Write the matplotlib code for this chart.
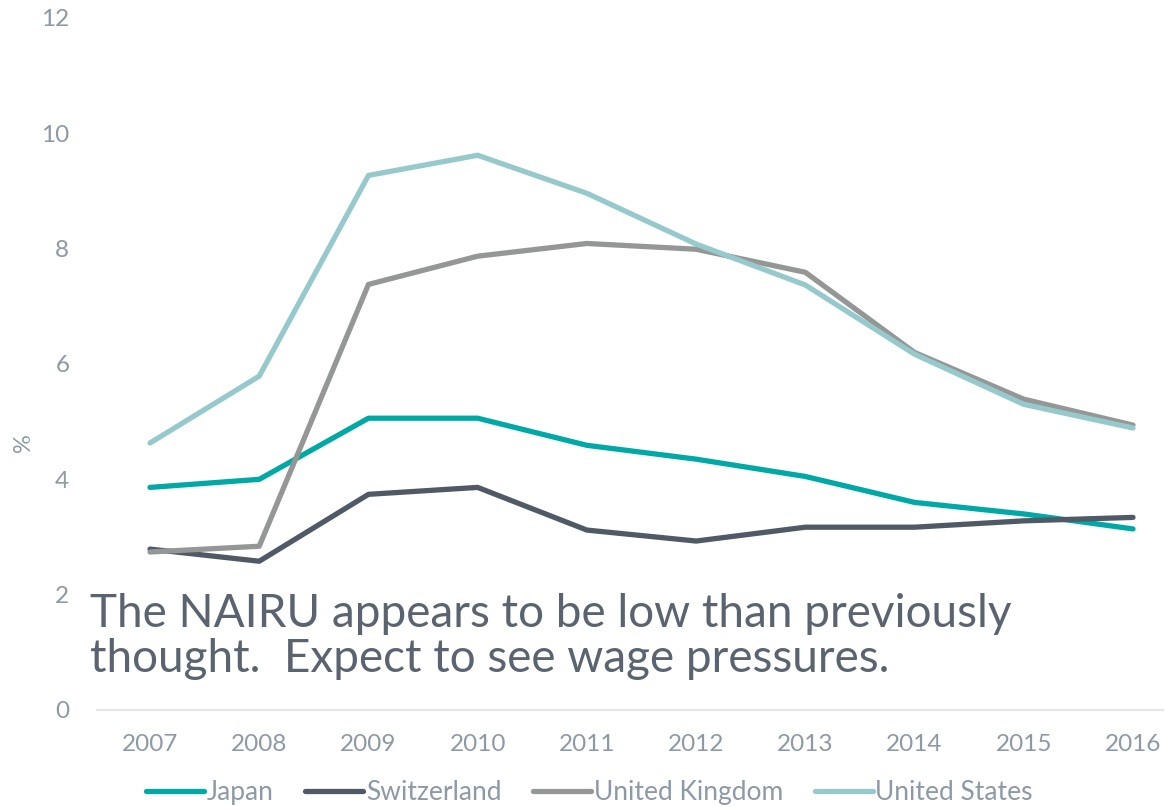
import matplotlib.pyplot as plt

years = [2007, 2008, 2009, 2010, 2011, 2012, 2013, 2014, 2015, 2016]
japan = [3.86, 4.00, 5.06, 5.06, 4.59, 4.35, 4.05, 3.60, 3.40, 3.14]
switzerland = [2.79, 2.58, 3.74, 3.86, 3.12, 2.93, 3.17, 3.17, 3.28, 3.34]
united_kingdom = [2.74, 2.84, 7.38, 7.87, 8.09, 7.99, 7.59, 6.20, 5.39, 4.94]
united_states = [4.63, 5.79, 9.27, 9.62, 8.96, 8.08, 7.37, 6.17, 5.30, 4.89]

series = [
    ("Japan", japan, "#00A9A5"),
    ("Switzerland", switzerland, "#4F5A66"),
    ("United Kingdom", united_kingdom, "#949796"),
    ("United States", united_states, "#96C9CB"),
]

plt.rcParams["font.family"] = ["Lato", "DejaVu Sans"]
label_color = "#8C99A6"

fig = plt.figure(figsize=(11.65, 8.07), dpi=100)
ax = fig.add_axes([0.0833, 0.1202, 0.915, 0.8575])

for name, vals, col in series:
    ax.plot(years, vals, color=col, linewidth=3.8, label=name, solid_capstyle="round")

ax.set_xlim(2006.515, 2016.275)
ax.set_ylim(0, 12)
ax.set_yticks(range(0, 13, 2))
ax.set_xticks(years)
ax.tick_params(length=0, labelsize=17.5, colors=label_color)
ax.tick_params(axis="x", pad=17)
ax.tick_params(axis="y", pad=20)
for s in ["top", "right", "left"]:
    ax.spines[s].set_visible(False)
ax.spines["bottom"].set_color("#E3E5E8")
ax.spines["bottom"].set_linewidth(1.5)

fig.text(0.02, 0.452, "%", rotation=90, color=label_color, fontsize=17,
         ha="center", va="center")

ax.text(2006.45, 1.27, "The NAIRU appears to be low than previously\nthought.  Expect to see wage pressures.",
        color="#5A6470", fontsize=33, ha="left", va="center", linespacing=1.1)

leg = fig.legend(loc="center", bbox_to_anchor=(0.506, 0.018), ncol=4, frameon=False,
                 fontsize=19, handlelength=2.2, handletextpad=0.1, columnspacing=1.2)
for t in leg.get_texts():
    t.set_color(label_color)

fig.savefig("out.png", dpi=100)
